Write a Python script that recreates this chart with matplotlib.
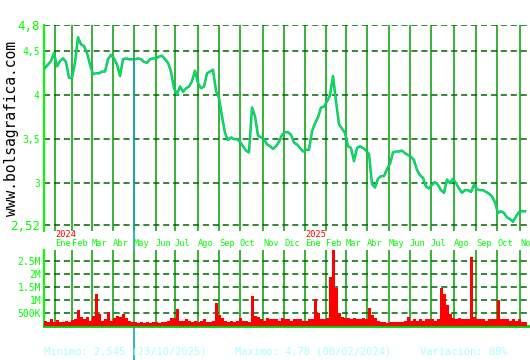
import numpy as np
import matplotlib
matplotlib.use("Agg")
import matplotlib.pyplot as plt
from matplotlib import transforms

# cierre diario (muestreado cada 3 sesiones)
price = [4.31, 4.35, 4.39, 4.48, 4.33, 4.39, 4.42, 4.38, 4.20, 4.20,
         4.37, 4.66, 4.58, 4.56, 4.48, 4.35, 4.24, 4.25, 4.25, 4.27,
         4.27, 4.41, 4.46, 4.42, 4.35, 4.22, 4.41, 4.42, 4.41, 4.41,
         4.41, 4.42, 4.41, 4.38, 4.37, 4.41, 4.42, 4.42, 4.44, 4.45,
         4.41, 4.37, 4.27, 4.08, 4.01, 4.10, 4.04, 4.08, 4.10, 4.16,
         4.28, 4.14, 4.08, 4.10, 4.25, 4.27, 4.29, 4.05, 3.97, 3.76,
         3.57, 3.49, 3.52, 3.50, 3.50, 3.47, 3.42, 3.37, 3.35, 3.86,
         3.76, 3.54, 3.52, 3.50, 3.44, 3.42, 3.39, 3.42, 3.47, 3.55,
         3.58, 3.58, 3.55, 3.46, 3.44, 3.40, 3.36, 3.38, 3.38, 3.59,
         3.68, 3.75, 3.86, 3.87, 3.93, 4.00, 4.22, 3.93, 3.67, 3.62,
         3.57, 3.42, 3.40, 3.25, 3.40, 3.42, 3.40, 3.37, 3.33, 2.99,
         2.95, 3.05, 3.08, 3.08, 3.16, 3.22, 3.35, 3.36, 3.36, 3.37,
         3.34, 3.32, 3.30, 3.26, 3.15, 3.09, 3.06, 2.96, 2.94, 2.98,
         3.01, 2.98, 2.92, 2.89, 3.04, 3.00, 3.05, 3.00, 2.94, 2.89,
         2.92, 2.92, 2.90, 2.98, 2.93, 2.92, 2.92, 2.90, 2.88, 2.85,
         2.78, 2.66, 2.68, 2.66, 2.61, 2.59, 2.56, 2.62, 2.67, 2.68,
         2.68]

# volumen en miles
volume_k = [200, 150, 250, 170, 230, 150, 170, 200, 150, 230,
            250, 620, 350, 250, 350, 200, 400, 1230, 450, 200,
            250, 550, 200, 300, 400, 350, 450, 300, 200, 170,
            150, 130, 150, 130, 150, 130, 150, 170, 130, 150,
            170, 200, 300, 300, 650, 200, 200, 250, 200, 170,
            200, 150, 200, 250, 150, 170, 200, 870, 420, 300,
            200, 170, 200, 150, 200, 300, 200, 200, 170, 1150,
            400, 350, 250, 200, 300, 250, 280, 250, 200, 300,
            250, 280, 200, 250, 280, 250, 200, 200, 280, 250,
            1030, 500, 280, 280, 300, 1900, 2920, 1450, 500, 350,
            300, 300, 280, 300, 250, 280, 300, 250, 680, 420,
            300, 200, 150, 150, 130, 150, 170, 150, 170, 150,
            200, 350, 200, 250, 200, 250, 200, 250, 280, 250,
            200, 250, 1450, 1230, 800, 450, 300, 280, 300, 250,
            280, 250, 2640, 350, 250, 280, 250, 200, 250, 280,
            250, 1000, 280, 250, 280, 200, 250, 200, 250, 150,
            150]

months = ["Ene", "Feb", "Mar", "Abr", "May", "Jun", "Jul", "Ago", "Sep", "Oct", "Nov", "Dic",
          "Ene", "Feb", "Mar", "Abr", "May", "Jun", "Jul", "Ago", "Sep", "Oct", "No"]
month_start = [10, 27, 47, 68, 89, 111, 130, 153, 174, 195, 218, 239,
               260, 281, 301, 322, 344, 365, 386, 409, 431, 452, 475]
years = ["2024", "2025"]
year_month = [0, 12]

price_ticks = [4.8, 4.5, 4.0, 3.5, 3.0, 2.52]
price_labels = ["4,8", "4,5", "4", "3,5", "3", "2,52"]
vol_ticks = [500e3, 1e6, 1.5e6, 2e6, 2.5e6]
vol_labels = ["500K", "1M", "1.5M", "2M", "2.5M"]

mono = "DejaVu Sans Mono"
lime = "#00ff00"
vgreen = "#00a000"
dgreen = "#006600"
teal = "#16a3b5"

days = np.arange(len(price)) * 3
vdays = np.arange(len(volume_k)) * 3

fig = plt.figure(figsize=(5.3, 3.6), dpi=100)
ax1 = fig.add_axes([44/530, 1-231/360, 483/530, 206/360])
ax2 = fig.add_axes([44/530, 1-326/360, 486/530, 76/360])

# --- precio
ax1.set_xlim(-1, 482)
ax1.set_ylim(2.455, 4.8)
for m in month_start:
    ax1.axvline(m, color=vgreen, lw=1.1, zorder=1)
for v in price_ticks:
    ax1.axhline(v, color=dgreen, lw=1.1, dashes=(4, 2.5), zorder=1)
ax1.plot(days, price, color=teal, lw=1.8, zorder=3)
ax1.plot(days, price, color=lime, lw=0.8, zorder=4)

ax1.set_xticks([])
ax1.set_yticks(price_ticks, price_labels)
ax1.tick_params(axis="y", length=0, pad=3, labelcolor=lime)
for i, t in enumerate(ax1.get_yticklabels()):
    t.set_family(mono)
    t.set_fontsize(9 if i in (0, len(price_ticks)-1) else 7)
for s in ["top", "right", "bottom"]:
    ax1.spines[s].set_visible(False)
ax1.spines["left"].set_color(lime)
ax1.spines["left"].set_linewidth(1.5)

# --- volumen
ax2.set_xlim(-1, 485)
ax2.set_ylim(0, 2.92e6)
for m in month_start:
    ax2.axvline(m, color=vgreen, lw=1.1, zorder=1)
for v in vol_ticks:
    ax2.axhline(v, color=dgreen, lw=1.1, dashes=(4, 2.5), zorder=1)
ax2.bar(vdays, np.array(volume_k) * 1000, width=3.0, color="#ff0000", linewidth=0, zorder=3)
ax2.set_xticks([])
ax2.set_yticks(vol_ticks, vol_labels)
ax2.tick_params(axis="y", length=0, pad=2, labelcolor=lime, labelsize=7)
for t in ax2.get_yticklabels():
    t.set_family(mono)
ax2.spines["top"].set_visible(False)
ax2.spines["right"].set_visible(False)
ax2.spines["left"].set_color(lime)
ax2.spines["left"].set_linewidth(1.5)
ax2.spines["bottom"].set_color("#00cc00")
ax2.spines["bottom"].set_linewidth(2)

tr = transforms.blended_transform_factory(ax2.transData, ax2.transAxes)
for m, name in zip(month_start, months):
    ax2.text(m, 1.085, name, transform=tr, ha="left", va="center",
             color=lime, fontsize=6.2, family=mono)
for y, i in zip(years, year_month):
    ax2.text(month_start[i], 1.20, y, transform=tr, ha="left", va="center",
             color="#ff0000", fontsize=6.2, family=mono)

# linea del cursor (mayo 2024)
xc = month_start[4]
yc = price[30]
ytop = fig.transFigure.inverted().transform(ax1.transData.transform((xc, yc)))[1]
trc = transforms.blended_transform_factory(ax1.transData, fig.transFigure)
ax1.plot([xc, xc], [0, ytop], transform=trc, color=teal, lw=1.2, clip_on=False, zorder=5)

fig.text(12/530, 1-128/360, "www.bolsagrafica.com", rotation=90, ha="center", va="center",
         fontsize=10.5, family=mono, color="black")

fig.text(44/530, 1-352/360, "Minimo: 2,545 (23/10/2025)", color="#aaffff", fontsize=7.5,
         family=mono, va="center")
fig.text(235/530, 1-352/360, "Maximo: 4,78 (08/02/2024)", color="#aaffff", fontsize=7.5,
         family=mono, va="center")
fig.text(420/530, 1-352/360, "Variación: 88%", color="#aaffff", fontsize=7.5,
         family=mono, va="center")

fig.savefig("out.png", dpi=100)
